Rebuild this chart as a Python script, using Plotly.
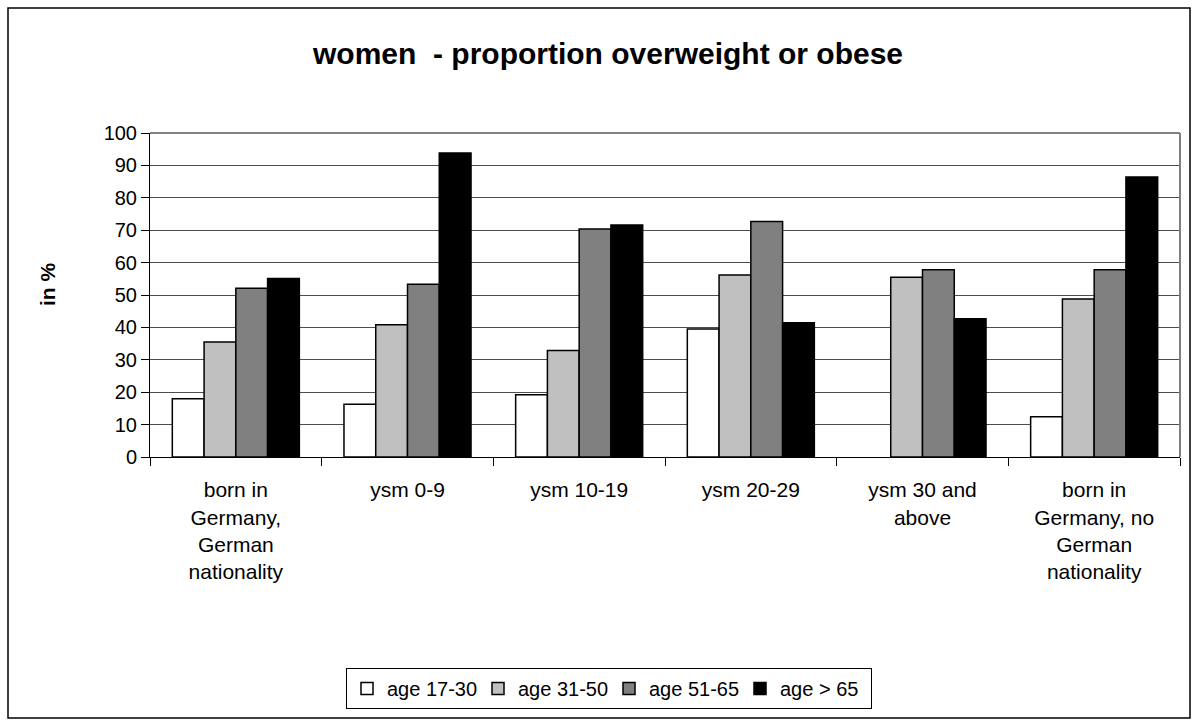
import plotly.graph_objects as go

categories = [
    "born in<br>Germany,<br>German<br>nationality",
    "ysm 0-9",
    "ysm 10-19",
    "ysm 20-29",
    "ysm 30 and<br>above",
    "born in<br>Germany, no<br>German<br>nationality",
]
series_names = ["age 17-30", "age 31-50", "age 51-65", "age > 65"]
age_17_30 = [18.0, 16.3, 19.2, 39.5, None, 12.4]
age_31_50 = [35.5, 40.8, 32.9, 56.2, 55.5, 48.8]
age_51_65 = [52.1, 53.3, 70.4, 72.7, 57.8, 57.8]
age_65_plus = [55.1, 93.8, 71.6, 41.4, 42.7, 86.4]
y_ticks = [0, 10, 20, 30, 40, 50, 60, 70, 80, 90, 100]

colors = ["#FFFFFF", "#C0C0C0", "#808080", "#000000"]
values = [age_17_30, age_31_50, age_51_65, age_65_plus]

FONT = "Liberation Sans, Arial, sans-serif"

fig = go.Figure()
for name, vals, col in zip(series_names, values, colors):
    fig.add_trace(go.Bar(
        x=categories, y=vals, name=name,
        marker=dict(color=col, line=dict(color="#000000", width=1.5)),
    ))

W, H = 1198, 724
ml, mr, mt, mb = 150, 18, 133, 267
pw, ph = W - ml - mr, H - mt - mb

def px_x(p):
    return (p - ml) / pw

def px_y(p):
    return (H - mb - p) / ph

fig.update_layout(
    width=W, height=H,
    margin=dict(l=ml, r=mr, t=mt, b=mb),
    paper_bgcolor="white", plot_bgcolor="white",
    barmode="group", bargap=0.26, bargroupgap=0,
    font=dict(family=FONT, size=20, color="black"),
    title=dict(text="<b>women  - proportion overweight or obese</b>",
               x=px_x(608), xref="paper", xanchor="center",
               y=1 - 53 / H, yanchor="middle",
               font=dict(family=FONT, size=30, color="black")),
    showlegend=True,
    legend=dict(orientation="h", x=px_x(609), xanchor="center",
                y=px_y(668), yanchor="top",
                bordercolor="#000000", borderwidth=1,
                font=dict(family=FONT, size=20),
                itemwidth=30, entrywidth=86,
                traceorder="normal"),
    xaxis=dict(
        type="category", showgrid=False,
        showline=True, linecolor="black", linewidth=1,
        ticks="outside", tickson="boundaries", ticklen=8, tickcolor="black",
        tickfont=dict(family=FONT, size=21),
        ticklabelstandoff=14,
    ),
    yaxis=dict(
        range=[0, 100], tickvals=y_ticks, showgrid=True,
        gridcolor="#4d4d4d", gridwidth=1,
        showline=True, linecolor="black", linewidth=1,
        ticks="outside", ticklen=8, tickcolor="black",
        tickfont=dict(family=FONT, size=20),
        zeroline=False,
    ),
)

fig.add_annotation(text="<b>in %</b>", xref="paper", yref="paper",
                   x=px_x(47), y=px_y(285), textangle=-90, showarrow=False,
                   xanchor="center", yanchor="middle",
                   font=dict(family=FONT, size=21, color="black"))

# plot area border (top/right in gray)
fig.add_shape(type="line", xref="paper", yref="paper", x0=0, x1=1, y0=1, y1=1,
              line=dict(color="#808080", width=2), layer="above")
fig.add_shape(type="line", xref="paper", yref="paper", x0=1, x1=1, y0=0, y1=1,
              line=dict(color="#808080", width=2), layer="above")
# outer chart frame
fig.add_shape(type="rect", xref="paper", yref="paper",
              x0=px_x(8), x1=px_x(1190), y0=px_y(718), y1=px_y(8),
              line=dict(color="#000000", width=1.5), layer="below")

fig.write_html("out.html",
               config={"displayModeBar": False},
               post_script="document.body.style.margin='0';document.body.style.overflow='hidden';")
